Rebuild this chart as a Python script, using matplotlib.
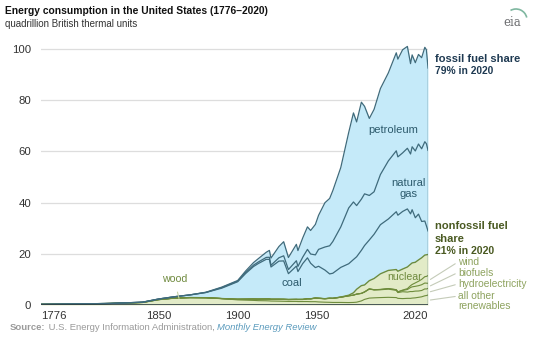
import numpy as np
import matplotlib.pyplot as plt
from matplotlib.patches import Arc

years = [1776, 1800, 1820, 1840, 1850, 1860, 1870, 1880, 1890, 1900, 1905, 1910,
         1913, 1918, 1920, 1921, 1926, 1929, 1932, 1937, 1938, 1941, 1944, 1946,
         1949, 1951, 1955, 1958, 1960, 1965, 1970, 1973, 1975, 1978, 1980, 1983,
         1986, 1990, 1995, 2000, 2001, 2004, 2007, 2009, 2010, 2012, 2014, 2016,
         2018, 2019, 2020]

other_renew = [0.25, 0.4, 0.6, 1.0, 2.1, 2.7, 2.9, 2.85, 2.5, 2.0, 1.9, 1.8,
               1.7, 1.65, 1.6, 1.55, 1.5, 1.45, 1.4, 1.4, 1.35, 1.35, 1.35, 1.3,
               1.3, 1.2, 1.1, 1.05, 1.0, 1.0, 0.95, 1.0, 1.1, 1.6, 2.2, 2.7,
               2.8, 2.9, 3.0, 2.9, 2.6, 2.5, 2.6, 2.6, 2.7, 2.8, 3.0, 3.2,
               3.6, 3.7, 3.9]
hydro = [0, 0, 0, 0, 0, 0, 0, 0, 0.02, 0.25, 0.39, 0.54,
         0.6, 0.7, 0.74, 0.7, 0.75, 0.78, 0.75, 0.8, 0.82, 0.83, 1.08, 1.12,
         1.42, 1.44, 1.36, 1.59, 1.61, 2.06, 2.63, 2.86, 3.15, 2.94, 2.9, 3.53,
         3.07, 3.05, 3.2, 2.81, 2.24, 2.69, 2.45, 2.67, 2.54, 2.63, 2.47, 2.47,
         2.69, 2.56, 2.59]
biofuels = [0] * 35 + [0.08, 0.1, 0.11, 0.2, 0.23, 0.25, 0.5, 1.0, 1.57, 1.85,
                       1.87, 2.07, 2.25, 2.3, 2.27, 2.0]
wind = [0] * 37 + [0.03, 0.03, 0.06, 0.07, 0.14, 0.34, 0.72, 0.92, 1.34, 1.73,
                   2.1, 2.48, 2.64, 3.0]
nuclear = [0] * 27 + [0.002, 0.006, 0.04, 0.24, 0.91, 1.9, 3.02, 2.74, 3.2,
                      4.38, 6.1, 7.08, 7.86, 8.03, 8.22, 8.46, 8.36, 8.43, 8.06,
                      8.34, 8.43, 8.44, 8.45, 8.25]
coal = [0, 0.01, 0.02, 0.1, 0.22, 0.52, 1.05, 2.05, 4.06, 6.84, 10.0, 12.7,
        13.9, 15.5, 15.5, 12.6, 14.9, 15.0, 10.1, 13.0, 10.9, 14.0, 16.0, 13.9,
        11.9, 12.5, 11.2, 9.5, 9.8, 11.6, 12.3, 13.0, 12.7, 13.8, 15.4, 15.9,
        17.3, 19.2, 20.1, 22.6, 21.9, 22.5, 22.7, 19.7, 20.8, 17.4, 17.9, 14.2,
        13.3, 11.3, 9.2]
natural_gas = [0, 0, 0, 0, 0, 0, 0, 0, 0.26, 0.25, 0.37, 0.54,
               0.6, 0.75, 0.82, 0.68, 1.3, 2.0, 1.6, 2.1, 2.0, 2.5, 3.3, 3.6,
               4.97, 6.6, 9.0, 11.0, 12.4, 15.8, 21.8, 22.5, 20.0, 20.0, 20.2, 17.4,
               16.6, 19.6, 22.7, 23.8, 22.8, 22.9, 23.7, 23.4, 24.6, 26.1, 27.4, 28.4,
               31.0, 32.1, 31.5]
petroleum = [0, 0, 0, 0, 0, 0.003, 0.011, 0.096, 0.156, 0.23, 0.61, 1.0,
             1.3, 2.0, 2.68, 2.8, 4.4, 5.5, 4.7, 6.4, 6.2, 7.5, 8.8, 9.2,
             11.9, 13.3, 17.3, 18.5, 19.9, 23.2, 29.5, 34.8, 32.7, 37.9, 34.2, 30.1,
             32.2, 33.6, 34.4, 38.3, 38.2, 40.3, 39.8, 35.3, 35.9, 34.5, 35.0, 35.6,
             36.9, 36.7, 32.2]

x_ticks = [1776, 1850, 1900, 1950, 2020]
y_ticks = [0, 20, 40, 60, 80, 100]

W, H = 536, 338
BLUE = '#c5eaf9'
GREEN = '#e2ebc7'
FLINE = '#3f6b7c'
GLINE = '#6e8c3c'
GTEXT = '#6f8a3e'
LTEXT = '#8ea35f'

plt.rcParams['font.family'] = ['Liberation Sans', 'DejaVu Sans']

fig = plt.figure(figsize=(W / 100, H / 100), dpi=100)
ax = fig.add_axes([41 / W, 1 - 305 / H, 387 / W, 261 / H])

yr = np.array(years)
green = [other_renew, hydro, biofuels, wind, nuclear]
fossil = [coal, natural_gas, petroleum]
stack = np.cumsum(np.array(green + fossil, dtype=float), axis=0)

# areas
ax.fill_between(yr, 0, stack[4], color=GREEN, lw=0)
ax.fill_between(yr, stack[4], stack[7], color=BLUE, lw=0)

for i in range(4):
    ax.plot(yr, stack[i], color=GLINE, lw=0.8)
ax.plot(yr, stack[4], color=GLINE, lw=1.0)
for i in range(5, 8):
    ax.plot(yr, stack[i], color=FLINE, lw=0.9)
ax.plot([yr[-1], yr[-1]], [0, stack[7][-1]], color=FLINE, lw=1.0)
ax.axhline(0, color='#2f3f44', lw=1.2, zorder=3)

ax.set_xlim(1776, 2020)
ax.set_ylim(0, 102)
ax.set_yticks(y_ticks)
ax.set_xticks(x_ticks)
ax.set_xticklabels([str(t) for t in x_ticks])
labs = ax.get_xticklabels()
labs[0].set_ha('left')
labs[-1].set_ha('right')
ax.tick_params(length=0, labelsize=8.2, labelcolor='#333333')
ax.tick_params(axis='y', pad=7)
ax.tick_params(axis='x', pad=4)
ax.grid(axis='y', color='#dddddd', lw=0.9)
ax.set_axisbelow(True)
for s in ax.spines.values():
    s.set_visible(False)

# in-chart labels
ax.text(1998, 68.5, 'petroleum', fontsize=8, color='#2c5a6c', ha='center', va='center')
ax.text(2008, 45.5, 'natural\ngas', fontsize=8, color='#2c5a6c', ha='center', va='center',
        linespacing=1.05)
ax.text(1934, 8.6, 'coal', fontsize=8, color='#2c5a6c', ha='center', va='center')
ax.text(2005, 11, 'nuclear', fontsize=7.6, color=GTEXT, ha='center', va='center')
ax.annotate('wood', xy=(1863, 2.6), xytext=(1860, 10.2), fontsize=7.6, color=GTEXT,
            ha='center', va='center',
            arrowprops=dict(arrowstyle='-', color='#c8d4a8', lw=0.8, shrinkA=4, shrinkB=0))


def px(x, y):
    return x / W, 1 - y / H


# renewables labels with leader lines
mids = [(0 + stack[0][-1]) / 2, (stack[0][-1] + stack[1][-1]) / 2,
        (stack[1][-1] + stack[2][-1]) / 2, (stack[2][-1] + stack[3][-1]) / 2]
names = ['all other\nrenewables', 'hydroelectricity', 'biofuels', 'wind']
label_y = [301, 284, 272.5, 262]
for name, m, ly in zip(names, mids, label_y):
    ax.annotate(name, xy=(2021.5, m), xycoords='data', xytext=px(458, ly),
                textcoords='figure fraction', fontsize=7.4, color=LTEXT,
                ha='left', va='center', linespacing=0.95, annotation_clip=False,
                arrowprops=dict(arrowstyle='-', color='#c4cbb8', lw=0.8,
                                shrinkA=0, shrinkB=0,
                                relpos=(0, 0.75 if '\n' in name else 0.5)))

fig.text(*px(435, 59), 'fossil fuel share', fontsize=8, fontweight='bold',
         color='#1f3a52', va='center')
fig.text(*px(435, 71), '79% in 2020', fontsize=7.4, fontweight='bold',
         color='#1f3a52', va='center')
fig.text(*px(435, 226), 'nonfossil fuel', fontsize=8, fontweight='bold',
         color='#4a5a22', va='center')
fig.text(*px(435, 238.5), 'share', fontsize=8, fontweight='bold',
         color='#4a5a22', va='center')
fig.text(*px(435, 250.5), '21% in 2020', fontsize=7.6, fontweight='bold',
         color='#4a5a22', va='center')

# title block
fig.text(*px(5, 11), 'Energy consumption in the United States (1776\u20132020)',
         fontsize=7.4, fontweight='bold', color='#111111', va='center')
fig.text(*px(5, 24), 'quadrillion British thermal units', fontsize=7.0,
         color='#333333', va='center')

# source
t1 = fig.text(*px(10, 328), 'Source:', fontsize=6.8, fontweight='bold',
              color='#9a9a9a', va='center')
a2 = plt.annotate(' U.S. Energy Information Administration, ', xy=(1, 0.5),
                  xycoords=t1, fontsize=6.8, color='#9a9a9a', va='center', ha='left')
plt.annotate('Monthly Energy Review', xy=(1, 0.5), xycoords=a2, fontsize=6.8,
             color='#5b9bbd', style='italic', va='center', ha='left')

# logo
fig.text(*px(512, 22), 'eia', fontsize=8.5, family='DejaVu Serif', color='#6d6e71',
         ha='center', va='center')
arc = Arc(px(516, 20), 22 / W, 22 / H, theta1=20, theta2=110,
          transform=fig.transFigure, color='#7fb7a0', lw=1.2)
fig.add_artist(arc)

fig.savefig('out.png', dpi=100)
